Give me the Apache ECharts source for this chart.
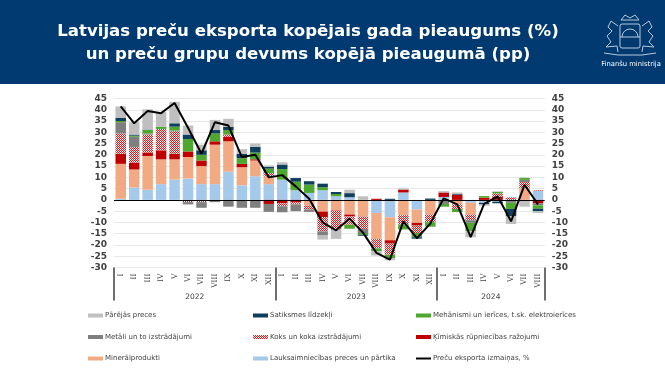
<!DOCTYPE html>
<html><head><meta charset="utf-8">
<style>html,body{margin:0;padding:0;background:#fff}#c{width:665px;height:375px}</style>
<script src="https://cdn.jsdelivr.net/npm/echarts@6/dist/echarts.min.js"></script>
</head><body><div id="c"></div>
<script>
const months=['I','II','III','IV','V','VI','VII','VIII','IX','X','XI','XII','I','II','III','IV','V','VI','VII','VIII','IX','X','XI','XII','I','II','III','IV','V','VI','VII','VIII'];
const yearNames=['2022','2023','2024'];
const yearCenters=[6,18,28];
const yearEdges=[0,12,24,32];
const yTicks=[-30,45];
const lauks=[0.5,5.5,4.5,7,9,9.5,7,7,12.5,6.5,10.5,7,9,4.3,3.1,4.3,1.6,1.2,0,-5.8,-7.7,3.3,-4.3,0,1.3,0,-1.3,-1.3,-0.8,0,0,4];
const miner=[15.5,8,15,11,9,9.5,8,17.5,13.5,8,7,3.4,0,0,-2.5,-5.2,-4.6,-6.5,-7.4,-11.6,-10.2,-6.8,-5.9,-6.5,0,-2,-5.2,0,0,0,5.3,0];
const kim=[4.5,3,1.5,4,2.5,2.5,2.5,1.5,2,1.5,0.5,-1.8,-1.5,-1,0,-2.4,-0.2,-0.8,0,0.5,-1.5,1.3,-1.2,0,2,2.3,0,1,1.3,0,0,-1.6];
const koks=[9,7,8,9.5,10,-1,-1,0,1,0,0,1.5,-1.3,-1,-1.8,-6.4,-8.5,-3.7,-5.5,-4.1,-4.9,-4.1,-3.3,-3.4,0,-2,-2.5,0,1.6,1.1,2.6,0.3];
const metali=[5,4.5,0.5,0,0.3,-1,-2.5,-1,-3,-3.5,-3.5,-3.5,-2.7,-3,-1,-1.8,0,0,-1.8,0,0,0,0,0,-1.8,0,-1.2,0,0,-1.3,1,-0.8];
const meh=[0.5,0.5,1.5,1,1.7,5.5,2.5,3.5,2,2.5,3,2,4.7,3.8,3.7,1.3,1,-1.8,-0.8,-1.2,-1.5,-2.2,-1.9,-2,-1.2,-1.4,-3.7,0.7,0.7,-2.7,0.9,-1.5];
const satik=[1.5,0.5,0.2,0,1.5,2,2,1.5,1.5,2,2.5,0.7,2,1.6,1.5,1.6,0.9,1.8,-0.4,0,0.5,0,-0.6,0.6,0,0.3,0,-0.7,-0.7,-3.3,0,-1.1];
const pareja=[5,5.5,9,6.5,9.5,4,2.5,4.5,3.5,2,1.5,0.7,1,0,0,-1.8,-4,1.5,1.6,-2,-1,0.5,0,0,0.6,0.7,-2.7,-0.6,0.2,-3.4,-3,-0.8];
const total=[41.5,34,39.5,38.5,43,32,20.5,34.5,33,19,20,10,11,6,0.5,-10,-13.5,-8.3,-14.5,-23.5,-26.5,-9.5,-17,-10.5,0.7,-2,-16.5,-1.8,1.6,-9.5,6.7,-2];
const names=['Pārējās preces','Satiksmes līdzekļi','Mehānismi un ierīces, t.sk. elektroierīces','Metāli un to izstrādājumi','Koks un koka izstrādājumi','Ķīmiskās rūpniecības ražojumi','Minerālprodukti','Lauksaimniecības preces un pārtika','Preču eksporta izmaiņas, %'];

const pc=document.createElement('canvas');pc.width=4;pc.height=4;
const g=pc.getContext('2d');g.fillStyle='#fbe3df';g.fillRect(0,0,4,4);g.fillStyle='#d5202a';
[[0,0],[2,0],[1,1],[3,1],[0,2],[2,2],[1,3],[3,3]].forEach(p=>g.fillRect(p[0],p[1],1,1));
const hatch={image:pc,repeat:'repeat'};

function bar(name,data,color){return {name,type:'bar',stack:'a',data,barWidth:10.5,itemStyle:{color},emphasis:{disabled:true}};}
const series=[
 bar(names[7],lauks,'#a4c9eb'),
 bar(names[6],miner,'#f2aa84'),
 bar(names[5],kim,'#c00000'),
 bar(names[4],koks,hatch),
 bar(names[3],metali,'#7f7f7f'),
 bar(names[2],meh,'#4ea72e'),
 bar(names[1],satik,'#0e3f5c'),
 bar(names[0],pareja,'#bfbfbf'),
 {name:names[8],type:'line',data:total,symbol:'none',z:5,lineStyle:{color:'#000',width:2},itemStyle:{color:'#000'},
  markLine:{silent:true,symbol:'none',label:{show:false},lineStyle:{color:'#000',width:1,type:'solid'},data:[{yAxis:0}],animation:false}}
];
const lineIcon='path://M0 0L0 0M0 25H100V75H0ZM100 100L100 100';
function legend(x,items){return {left:x,top:312,orient:'vertical',itemWidth:15,itemHeight:4,itemGap:14.5,padding:0,symbolKeepAspect:false,
  data:items.map(n=>({name:n,icon:n===names[8]?lineIcon:'rect'})),textStyle:{fontFamily:'DejaVu Sans',fontSize:7,color:'#404040',padding:[0,0,0,-3]},selectedMode:false};}
const yCommon={type:'value',min:yTicks[0],max:yTicks[1],interval:5,axisLine:{show:false},axisTick:{show:false}};
const yLabel={fontFamily:'DejaVu Sans',fontWeight:'bold',fontSize:9,color:'#404040',margin:7};
const chart=echarts.init(document.getElementById('c'),null,{renderer:'canvas'});
const plotLeft=114, plotRight=544.7, plotBottom=267.5;
const separators=yearEdges.map(v=>{const x=Math.round(plotLeft+v*(plotRight-plotLeft)/32);
  return {type:'rect',z:100,silent:true,shape:{x:x-1,y:plotBottom,width:2,height:33},style:{fill:'#6f6f6f'}};});
const decoration=[
  {type:'rect',z:-10,silent:true,shape:{x:0,y:0,width:665,height:84},style:{fill:'#003a70'}},
  {type:'text',z:10,silent:true,x:631,y:61,style:{text:'Finanšu ministrija',fill:'#fff',font:'6.8px "DejaVu Sans"',textAlign:'center'}},
  {type:'group',z:10,silent:true,children:[
    {type:'arc',shape:{cx:630,cy:37,r:8,startAngle:Math.PI,endAngle:0},style:{stroke:'#b9c9dc',fill:'none',lineWidth:1}},
    {type:'rect',shape:{x:620,y:24,width:20,height:24,r:2},style:{stroke:'#b9c9dc',fill:'none',lineWidth:1}},
    {type:'line',shape:{x1:620,y1:37,x2:640,y2:37},style:{stroke:'#b9c9dc',lineWidth:1}},
    {type:'polyline',shape:{points:[[621,20],[625,15],[630,18],[635,15],[639,20],[621,20]]},style:{stroke:'#b9c9dc',fill:'none',lineWidth:1}},
    {type:'polyline',shape:{points:[[618,26],[611,21],[608,27],[612,31],[607,36],[611,42],[606,47],[617,46],[618,52]]},style:{stroke:'#b9c9dc',fill:'none',lineWidth:1}},
    {type:'polyline',shape:{points:[[642,26],[649,21],[652,27],[648,31],[653,36],[649,42],[654,47],[643,46],[642,52]]},style:{stroke:'#b9c9dc',fill:'none',lineWidth:1}},
    {type:'polyline',shape:{points:[[604,53],[618,55],[642,55],[656,53]]},style:{stroke:'#b9c9dc',fill:'none',lineWidth:1}}
  ]}
].concat(separators);
chart.setOption({
 animation:false,backgroundColor:'#fff',
 grid:{left:plotLeft,right:665-plotRight,top:98.5,bottom:375-plotBottom,containLabel:false},
 title:{text:'Latvijas preču eksporta kopējais gada pieaugums (%)\nun preču grupu devums kopējā pieaugumā (pp)',left:303,top:15,textAlign:'center',
   textStyle:{color:'#fff',fontFamily:'DejaVu Sans',fontWeight:'bold',fontSize:16.6,lineHeight:23}},
 legend:[legend(88,[names[0],names[3],names[6]]),legend(253,[names[1],names[4],names[7]]),legend(416,[names[2],names[5],names[8]])],
 xAxis:[
  {type:'category',data:months,position:'bottom',axisLine:{show:false,onZero:false},axisTick:{show:false},
   axisLabel:{rotate:90,interval:0,fontFamily:'DejaVu Serif',fontSize:7.5,color:'#404040',margin:6}},
  {type:'value',min:0,max:32,position:'bottom',axisLine:{show:false,onZero:false},splitLine:{show:false},axisTick:{show:false},
   axisLabel:{show:true,customValues:yearCenters,margin:26,fontFamily:'DejaVu Sans',fontSize:7.5,color:'#404040',
     formatter:v=>yearNames[yearCenters.indexOf(v)]}}
 ],
 yAxis:[
  Object.assign({},yCommon,{position:'left',axisLabel:yLabel,splitLine:{show:true,lineStyle:{color:'#e8e8e8',width:1}}}),
  Object.assign({},yCommon,{position:'right',axisLabel:yLabel,splitLine:{show:false}})
 ],
 series,
 graphic:decoration
});
</script></body></html>
